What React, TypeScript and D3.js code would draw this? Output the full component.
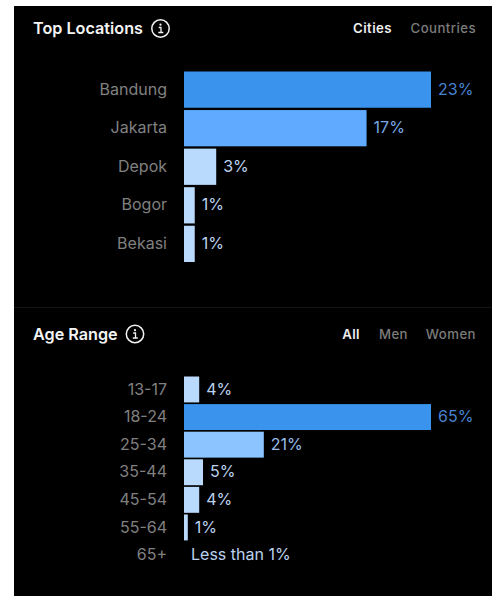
import React from "react";
import * as d3 from "d3";

const cityNames = ["Bandung", "Jakarta", "Depok", "Bogor", "Bekasi"];
const cityShares = [23, 17, 3, 1, 1];
const ageNames = ["13-17", "18-24", "25-34", "35-44", "45-54", "55-64", "65+"];
const ageShares = [4, 65, 21, 5, 4, 1, 0];
const ageCaptions = ["4%", "65%", "21%", "5%", "4%", "1%", "Less than 1%"];
const cityTabs = ["Cities", "Countries"];
const ageTabs = ["All", "Men", "Women"];

const FONT = "Inter, 'Noto Sans', sans-serif";
const BAR_LEFT = 184;
const BAR_RIGHT = 431;

// Bars take a darker blue as their share of the section's maximum grows.
const barFill = (v: number, max: number) => {
  const r = v / max;
  return r > 0.9 ? "#3a94ee" : r > 0.5 ? "#60abff" : r > 0.3 ? "#8cc4ff" : "#b9d9fd";
};
const captionFill = (v: number, max: number) => {
  const r = v / max;
  return r > 0.9 ? "#4783d0" : r > 0.5 ? "#76a8e6" : r > 0.3 ? "#98bdea" : "#bcd3f0";
};

function InfoIcon({ x, y }: { x: number; y: number }) {
  return (
    <g transform={`translate(${x},${y})`}>
      <circle r={8.7} fill="none" stroke="#f2f2f2" strokeWidth={1.5} />
      <circle cx={0} cy={-3.8} r={1.1} fill="#f2f2f2" />
      <path d="M-1.8,-1 H0.5 V3.8 M-2.2,4 H2.8" fill="none" stroke="#f2f2f2" strokeWidth={1.3} />
    </g>
  );
}

function Header({ title, iconX, y, tabs, tabX }: { title: string; iconX: number; y: number; tabs: string[]; tabX: number[] }) {
  return (
    <g fontFamily={FONT}>
      <text x={33} y={y + 5.5} fill="#f4f4f4" fontSize={16.2} fontWeight={600}>{title}</text>
      <InfoIcon x={iconX} y={y} />
      {tabs.map((t, i) => (
        <text key={t} x={tabX[i]} y={y + 4.5} textAnchor="end" fontSize={13.2} letterSpacing={0.45}
          fontWeight={i === 0 ? 600 : 500} fill={i === 0 ? "#f0f0f0" : "#7c7c7c"}>{t}</text>
      ))}
    </g>
  );
}

function BarBlock({ names, values, captions, top, bottom, inner, fontSize }: {
  names: string[]; values: number[]; captions: string[]; top: number; bottom: number; inner: number; fontSize: number;
}) {
  const max = d3.max(values) as number;
  const y = d3.scaleBand<string>().domain(names).range([top, bottom]).paddingInner(inner);
  const x = d3.scaleLinear().domain([0, max]).range([BAR_LEFT, BAR_RIGHT]);
  return (
    <g fontFamily={FONT} fontSize={fontSize}>
      {names.map((n, i) => {
        const cy = (y(n) as number) + y.bandwidth() / 2;
        const v = values[i];
        return (
          <g key={n}>
            <text x={167} y={cy + fontSize * 0.32} textAnchor="end" fill="#808080">{n}</text>
            {v > 0 && <rect x={x(0)} y={y(n)} width={x(v) - x(0)} height={y.bandwidth()} fill={barFill(v, max)} />}
            <text x={v > 0 ? x(v) + 7 : x(0) + 7} y={cy + fontSize * 0.32} fill={captionFill(v, max)}>{captions[i]}</text>
          </g>
        );
      })}
    </g>
  );
}

export default function App() {
  return (
    <svg width={492} height={596} style={{ position: "absolute", left: 0, top: 0, background: "#fff" }}>
      <rect x={14} y={6} width={478} height={590} fill="#000" />
      <line x1={14} x2={492} y1={307.5} y2={307.5} stroke="#141414" />
      <Header title="Top Locations" iconX={160.5} y={28.5} tabs={cityTabs} tabX={[392, 476]} />
      <BarBlock names={cityNames} values={cityShares} captions={cityShares.map((v) => `${v}%`)}
        top={71.5} bottom={262} inner={0.06} fontSize={16} />
      <Header title="Age Range" iconX={135} y={334} tabs={ageTabs} tabX={[360, 408, 476]} />
      <BarBlock names={ageNames} values={ageShares} captions={ageCaptions}
        top={376.5} bottom={568} inner={0.06} fontSize={16} />
    </svg>
  );
}
